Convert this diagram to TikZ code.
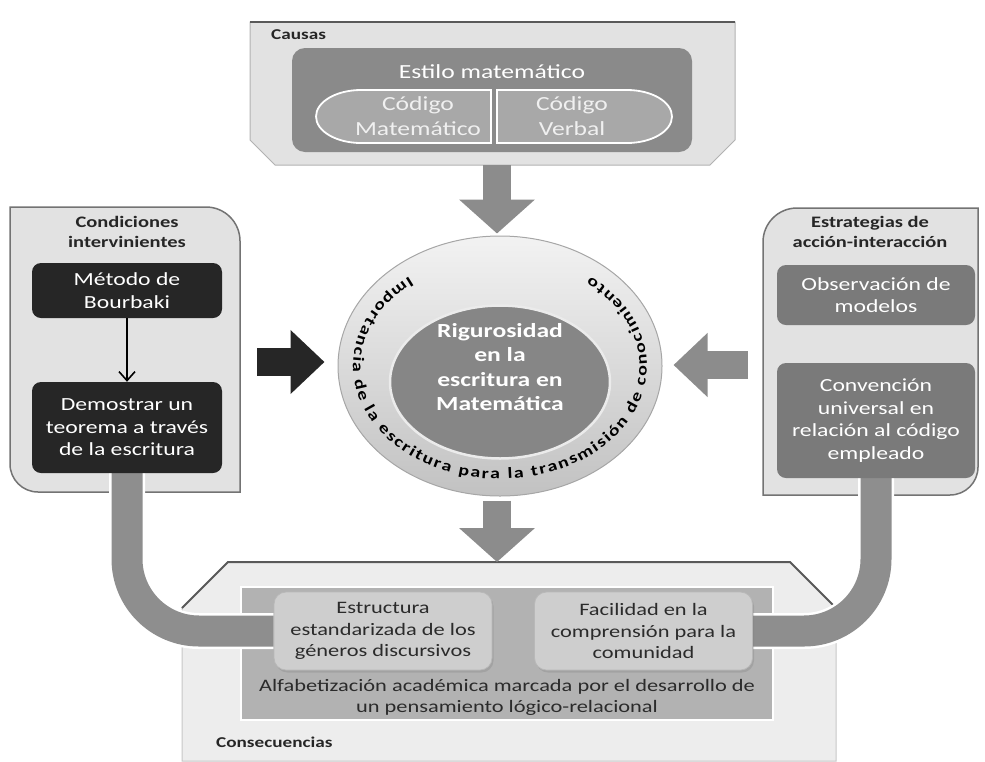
\documentclass[tikz,border=0pt]{standalone}
\usepackage{fontspec}
\setmainfont{Carlito}[FakeStretch=1.28]
\usetikzlibrary{arrows.meta,decorations.text,shapes.geometric,shadows}

\definecolor{panelgray}{HTML}{E2E2E2}
\definecolor{darkbox}{HTML}{262626}
\definecolor{midbox}{HTML}{7A7A7A}
\definecolor{estgray}{HTML}{8A8A8A}
\definecolor{codegray}{HTML}{A8A8A8}
\definecolor{arrgray}{HTML}{8C8C8C}
\definecolor{coregray}{HTML}{868686}
\definecolor{consfill}{HTML}{EDEDED}
\definecolor{consinner}{HTML}{B2B2B2}
\definecolor{conbox}{HTML}{CECECE}
\definecolor{pipegray}{HTML}{8E8E8E}
\definecolor{inktext}{HTML}{2B2B2B}

\newcommand{\boxfont}{\fontsize{18.5}{22.5}\selectfont}
\newcommand{\headfont}{\fontsize{16}{20}\selectfont\bfseries}
\newcommand{\corefont}{\fontsize{20}{24.5}\selectfont\bfseries}
\newcommand{\codefont}{\fontsize{20}{25}\selectfont}
\newcommand{\consfont}{\fontsize{17.5}{21.5}\selectfont}
\newcommand{\tagfont}{\fontsize{15}{17}\selectfont\bfseries}
\newcommand{\ringfont}{\fontsize{15.5}{17}\selectfont\bfseries}

\pgfdeclarelayer{panels}
\pgfdeclarelayer{pipes}
\pgfsetlayers{panels,pipes,main}

\begin{document}
\begin{tikzpicture}[x=1pt,y=1pt]
  \tikzset{
    panel/.style={fill=panelgray,draw=black!55,line width=1.5pt},
    panedge/.style={draw=black!65,line width=2pt},
    conspanel/.style={fill=consfill,draw=black!22,line width=1pt},
    darkblk/.style={rounded corners=9pt,fill=darkbox,text=white,align=center,font=\boxfont,
                    minimum width=190pt,inner sep=0pt},
    midblk/.style={darkblk,fill=midbox},
    consblk/.style={rounded corners=12pt,fill=conbox,draw=black!28,line width=0.8pt,text=inktext,
                    align=center,font=\consfont,minimum width=218pt,minimum height=78pt,inner sep=0pt,
                    drop shadow={opacity=0.3,shadow xshift=1.5pt,shadow yshift=-2.5pt}},
    codeshape/.style={fill=codegray,draw=white,line width=1.8pt},
    codetxt/.style={font=\codefont,text=black!6,align=center},
    lbl/.style={font=\headfont,text=black!85,align=center},
    tag/.style={font=\tagfont,text=black!85,inner sep=0pt},
    fatarr/.style={line width=28pt,draw=#1,-{Triangle[length=34pt,width=74pt]}},
    fatarr/.default=arrgray,
    sidetip/.style={-{Triangle[length=34pt,width=62pt]}},
    thinarr/.style={-{Straight Barb[length=9pt,width=16pt]},line width=1.6pt,black},
    pipe/.style={draw=white,line width=2.5pt,double=pipegray,double distance=31pt,rounded corners=72pt}
  }
  \useasboundingbox (0,0) rectangle (985,-761);

  % background panels
  \begin{pgfonlayer}{panels}
    \draw[panel,draw=black!30,line width=1pt] (250,-22) -- (735,-22) -- (735,-140) -- (710,-165)
      -- (275,-165) -- (250,-140) -- cycle;
    \draw[panedge] (250,-22) -- (735,-22);
    \draw[panel] (10,-207) -- (206,-207) arc[start angle=90,end angle=0,radius=34] -- (240,-492)
      -- (38,-492) arc[start angle=270,end angle=180,radius=28] -- cycle;
    \draw[panel] (978,-208) -- (797,-208) arc[start angle=90,end angle=180,radius=34] -- (763,-495)
      -- (950,-495) arc[start angle=270,end angle=360,radius=28] -- cycle;
    \draw[conspanel] (228,-562) -- (790,-562) -- (836,-608) -- (836,-761) -- (182,-761) -- (182,-608) -- cycle;
    \draw[panedge] (182,-608) -- (228,-562) -- (790,-562) -- (836,-608);
    \node[fill=consinner,draw=white,line width=2pt,minimum width=532pt,minimum height=133pt] (alfa) at (507,-653.5) {};
  \end{pgfonlayer}

  % causas
  \node[tag,anchor=west] (causasT) at (271,-35) {Causas};
  \node[fill=estgray,rounded corners=13pt,minimum width=400pt,minimum height=104pt] (estilo) at (492,-100) {};
  \node[font=\codefont,text=white] (estiloT) at (492,-72) {Estilo matemático};
  \draw[codeshape] (491,-90) -- (361,-90) arc[start angle=90,end angle=270,x radius=45,y radius=26.5] -- (491,-143) -- cycle;
  \draw[codeshape] (497,-90) -- (627,-90) arc[start angle=90,end angle=-90,x radius=45,y radius=26.5] -- (497,-143) -- cycle;
  \node[codetxt] (codM) at (418,-116) {Código\\Matemático};
  \node[codetxt] (codV) at (572,-116) {Código\\Verbal};

  % condiciones intervinientes
  \node[lbl] (condT) at (127,-232) {Condiciones\\intervinientes};
  \node[darkblk,minimum height=55pt] (meto) at (127,-290.5) {Método de\\Bourbaki};
  \node[darkblk,minimum height=91pt] (demo) at (127,-427.5) {Demostrar un\\teorema a través\\de la escritura};
  \draw[thinarr] (meto) -- (demo);

  % estrategias
  \node[lbl] (estrT) at (870,-232) {Estrategias de\\acción-interacción};
  \node[midblk,minimum width=198pt,minimum height=60pt] (obs) at (876,-295) {Observación de\\modelos};
  \node[midblk,minimum width=198pt,minimum height=115pt] (conv) at (876,-420.5)
    {Convención\\universal en\\relación al código\\empleado};

  % consecuencias
  \node[consblk] (estr) at (383,-631) {Estructura\\estandarizada de los\\géneros discursivos};
  \node[consblk] (faci) at (643.5,-631) {Facilidad en la\\comprensión para la\\comunidad};
  \node[font=\consfont,text=inktext,align=center] (alfaT) at (507,-697.5)
    {Alfabetización académica marcada por el desarrollo de\\un pensamiento lógico-relacional};
  \node[tag,anchor=west] (consT) at (216,-742) {Consecuencias};

  \begin{pgfonlayer}{pipes}
    \draw[pipe] (demo.south) |- (estr.west);
    \draw[pipe] (conv.south) |- (faci.east);
  \end{pgfonlayer}

  % centre
  \node[ellipse,minimum width=324pt,minimum height=260pt,draw=black!35,line width=1pt,
        top color=black!5,bottom color=black!24] (ring) at (500,-366) {};
  \node[ellipse,minimum width=220pt,minimum height=153pt,fill=coregray,draw=black!8,line width=2.5pt] (core) at (500,-382) {};
  \node[font=\corefont,text=white,align=center] (coreT) at (500,-367) {Rigurosidad\\en la\\escritura en\\Matemática};
  \path[decorate,decoration={text along path,text align=fit to path,
        text={|\ringfont|Importancia de la escritura para la transmisión de conocimiento}}]
    (ring.center) ++(128:147 and 113) arc[start angle=128,end angle=412,x radius=147,y radius=113];

  % block arrows
  \coordinate (causasS) at (497,-165);
  \coordinate (consN) at (497,-562);
  \coordinate (condE) at (240,-362);
  \coordinate (estrW) at (763,-365);
  \draw[fatarr,shorten >=2pt] (causasS) -- (causasS |- ring.north);
  \draw[fatarr,shorten <=4pt] (consN |- ring.south) -- (consN);
  \draw[fatarr=darkbox,sidetip,shorten <=17pt,shorten >=13pt] (condE) -- (condE -| ring.west);
  \draw[fatarr,sidetip,shorten <=15pt,shorten >=11pt] (estrW) -- (estrW -| ring.east);
\end{tikzpicture}
\end{document}
